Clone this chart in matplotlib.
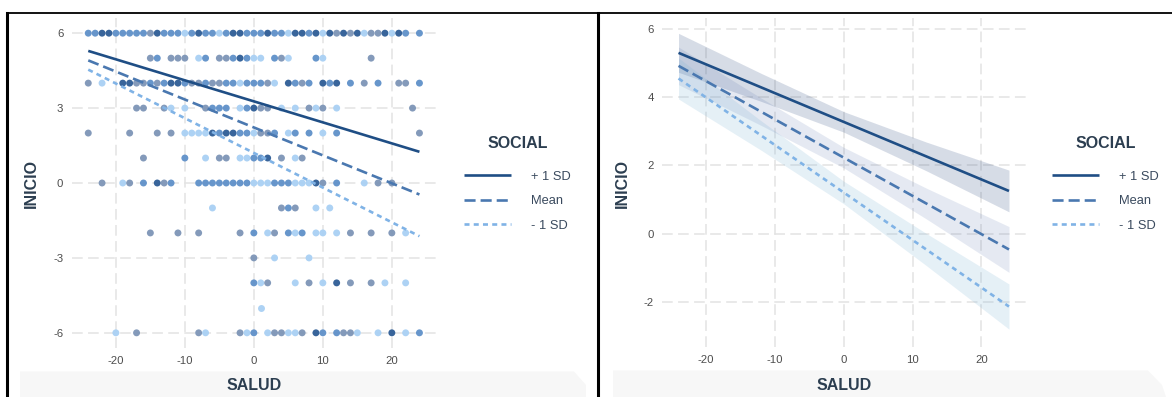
import matplotlib
matplotlib.use("Agg")
import matplotlib.pyplot as plt
from matplotlib.lines import Line2D
from matplotlib.patches import Polygon
import numpy as np

plt.rcParams['font.family'] = ['Liberation Sans', 'DejaVu Sans']
plt.rcParams['axes.unicode_minus'] = False

W, H = 1172, 397

# ---- observed data: SALUD values at each INICIO level, shade code per point ----
inicio_levels = [6, 5, 4, 3, 2, 1, 0, -1, -2, -3, -4, -5, -6]

salud_6 = [-24, -23, -22, -21, -20, -19, -18, -17, -16, -15, -14, -13, -12, -11, -10, -9,
           -8, -7, -6, -5, -4, -3, -2, -1, 0, 1, 2, 3, 4, 5, 6, 7, 8, 9, 10, 11, 12, 13,
           14, 15, 16, 17, 18, 19, 20, 21, 22, 24]
shade_6 = "mmddmmmmmgdmmmlmdmmlmddmmmdmmlddmdldgdgdlggdldmm"

salud_5 = [-15, -14, -12, -11, -10, -8, -7, -5, -4, -3, -2, -1, 0, 1, 3, 4, 5, 9, 10, 17]
shade_5 = "gmggglmggmdmllmglmlg"

salud_4 = [-24, -22, -19, -18, -17, -16, -15, -14, -13, -12, -11, -10, -9, -8, -7, -6, -5,
           -4, -3, -2, -1, 0, 1, 2, 3, 5, 6, 7, 8, 10, 11, 12, 14, 16, 18, 21, 22, 24]
shade_4 = "glddggmgmddmggmggmmlmmmgldmgmdmdmgmggm"

salud_3 = [-17, -16, -13, -12, -10, -7, -6, -5, -4, -2, -1, 0, 1, 2, 4, 6, 8, 9, 10, 12, 23]
shade_3 = "gggllgmmmlmdggllglglg"

salud_2 = [-24, -18, -14, -12, -10, -9, -8, -7, -6, -5, -4, -3, -2, -1, 0, 1, 2, 3, 5, 6,
           8, 10, 12, 24]
shade_2 = "gggglllldmddmmlggmlmmlmg"

salud_1 = [-16, -10, -7, -5, -4, -2, -1, 0, 1, 2, 4, 6, 7]
shade_1 = "gmlggllmmdglg"

salud_0 = [-22, -19, -18, -16, -14, -13, -12, -8, -7, -6, -5, -4, -3, -2, -1, 0, 1, 2, 3,
           4, 5, 6, 7, 8, 9, 10, 12, 16, 18, 20]
shade_0 = "glgmdgmmmmmmmmmlllmmmllldgmlgg"

salud_m1 = [-6, 4, 5, 6, 9, 11]
shade_m1 = "lgmgll"

salud_m2 = [-15, -11, -8, -2, 0, 2, 3, 5, 6, 7, 9, 10, 12, 14, 17, 20, 22]
shade_m2 = "ggggmlgmlmlllgggl"

salud_m3 = [0, 3, 8]
shade_m3 = "gll"

salud_m4 = [0, 1, 2, 6, 8, 10, 12, 14, 17, 19, 22]
shade_m4 = "mlglgldggll"

salud_m5 = [1]
shade_m5 = "l"

salud_m6 = [-20, -17, -8, -7, -2, -1, 0, 2, 3, 4, 5, 6, 7, 9, 10, 12, 13, 14, 15, 18, 20,
            22, 24]
shade_m6 = "lgglglmlggllgdmmgglldlm"

salud_rows = [salud_6, salud_5, salud_4, salud_3, salud_2, salud_1, salud_0,
              salud_m1, salud_m2, salud_m3, salud_m4, salud_m5, salud_m6]
shade_rows = [shade_6, shade_5, shade_4, shade_3, shade_2, shade_1, shade_0,
              shade_m1, shade_m2, shade_m3, shade_m4, shade_m5, shade_m6]

# ---- simple slopes of INICIO on SALUD at three SOCIAL levels ----
social_labels = ["+ 1 SD", "Mean", "- 1 SD"]
salud_ends = [-24, 24]
fit_start = [5.29, 4.91, 4.54]
fit_end = [1.25, -0.46, -2.13]

# confidence band half-widths along SALUD
band_salud = [-24, -12, 0, 12, 24]
band_half_plus = [0.57, 0.41, 0.30, 0.42, 0.61]
band_half_mean = [0.55, 0.40, 0.30, 0.45, 0.67]
band_half_minus = [0.60, 0.43, 0.33, 0.47, 0.66]

# ---- styling ----
shade_colors = {'l': '#a9d0f4', 'm': '#5f90c9', 'g': '#7d95b7', 'd': '#2e5d96'}
line_colors = ['#1f4e85', '#4a78b0', '#80b3e6']
band_colors = ['#1f3f78', '#4a68a8', '#7fb5d6']
band_alpha = [0.18, 0.14, 0.20]
line_w = 1.9
dash_styles = ['-', (0, (4.2, 1.9)), (0, (1.9, 1.6))]
grid_kw = dict(color='#e3e3e3', linewidth=1.1, linestyle=(0, (7, 3.5)))
tick_color = '#4d4d4d'
title_color = '#2c3e50'


def px_axes(fig, x0, y0, x1, y1):
    return fig.add_axes([x0 / W, 1 - y1 / H, (x1 - x0) / W, (y1 - y0) / H])


def style_axes(ax, xticks, yticks):
    for s in ax.spines.values():
        s.set_visible(False)
    ax.set_xticks(xticks)
    ax.set_yticks(yticks)
    ax.tick_params(length=0, labelsize=8.2, colors=tick_color, pad=6)
    ax.grid(True, **grid_kw)
    ax.set_axisbelow(True)
    ax.set_facecolor('none')


def draw_lines(ax, with_bands):
    halves = [band_half_plus, band_half_mean, band_half_minus]
    xs = np.array(band_salud, dtype=float)
    for i in range(3):
        slope = (fit_end[i] - fit_start[i]) / (salud_ends[1] - salud_ends[0])
        if with_bands:
            yc = fit_start[i] + slope * (xs - salud_ends[0])
            hw = np.array(halves[i])
            ax.fill_between(xs, yc - hw, yc + hw, color=band_colors[i],
                            alpha=band_alpha[i], linewidth=0, zorder=1)
        ax.plot(salud_ends, [fit_start[i], fit_end[i]], color=line_colors[i],
                linewidth=line_w, linestyle=dash_styles[i], zorder=3,
                label=social_labels[i], solid_capstyle='butt', dash_capstyle='butt')


def add_legend(ax, anchor_x, anchor_y):
    leg = ax.legend(loc='upper left', bbox_to_anchor=(anchor_x / W, 1 - anchor_y / H),
                    bbox_transform=fig.transFigure, frameon=False, fontsize=9.3,
                    handlelength=3.6, handletextpad=1.6, labelspacing=0.97,
                    title='SOCIAL', borderaxespad=0)
    leg.get_title().set_fontweight('bold')
    leg.get_title().set_fontsize(11.5)
    leg.get_title().set_color(title_color)
    leg._legend_box.sep = 14
    for t in leg.get_texts():
        t.set_color('#3a4a5e')
    return leg


fig = plt.figure(figsize=(W / 100, H / 100), dpi=100)

# ---- panel backgrounds: grey strip under each x-axis title ----
fig.add_artist(Polygon([[20 / W, 0], [20 / W, 1 - 371.5 / H], [574 / W, 1 - 371.5 / H],
                        [586 / W, 1 - 385 / H], [586 / W, 0]],
                       closed=True, transform=fig.transFigure, facecolor='#f7f7f7',
                       edgecolor='none', zorder=0))
fig.add_artist(Polygon([[613 / W, 0], [613 / W, 1 - 370.5 / H], [1148 / W, 1 - 370.5 / H],
                        [1162 / W, 1 - 385 / H], [1166 / W, 0]],
                       closed=True, transform=fig.transFigure, facecolor='#f7f7f7',
                       edgecolor='none', zorder=0))

# ---- left panel: scatter with regression lines ----
axL = px_axes(fig, 71.7, 18.2, 436.0, 347.8)
for level, xs, shades in zip(inicio_levels, salud_rows, shade_rows):
    cols = [shade_colors[c] for c in shades]
    axL.scatter(xs, [level] * len(xs), s=25, c=cols, linewidths=0, alpha=0.95, zorder=2)
draw_lines(axL, with_bands=False)
axL.set_xlim(-26.4, 26.4)
axL.set_ylim(-6.6, 6.6)
style_axes(axL, [-20, -10, 0, 10, 20], [-6, -3, 0, 3, 6])
add_legend(axL, 459, 131)

# ---- right panel: regression lines with confidence bands ----
axR = px_axes(fig, 662.0, 18.3, 1025.5, 346.9)
draw_lines(axR, with_bands=True)
axR.set_xlim(-26.4, 26.4)
axR.set_ylim(-3.31, 6.30)
style_axes(axR, [-20, -10, 0, 10, 20], [-2, 0, 2, 4, 6])
add_legend(axR, 1047, 131)

# ---- axis titles ----
for cx, cy in [(254, 385), (844, 385)]:
    fig.text(cx / W, 1 - cy / H, 'SALUD', ha='center', va='center', fontsize=11.5,
             fontweight='bold', color=title_color)
for cx, cy in [(31, 183), (622, 183)]:
    fig.text(cx / W, 1 - cy / H, 'INICIO', ha='center', va='center', fontsize=11.5,
             fontweight='bold', color=title_color, rotation=90)

# ---- panel frames ----
fig.add_artist(Line2D([7 / W, 1], [1 - 13 / H, 1 - 13 / H], color='black', linewidth=1.3,
                      transform=fig.transFigure))
fig.add_artist(Line2D([7 / W, 7 / W], [0, 1 - 13 / H], color='black', linewidth=2.2,
                      transform=fig.transFigure))
fig.add_artist(Line2D([598 / W, 598 / W], [0, 1 - 12.5 / H], color='black', linewidth=2.2,
                      transform=fig.transFigure))

fig.savefig('out.png', dpi=100, facecolor='white')
